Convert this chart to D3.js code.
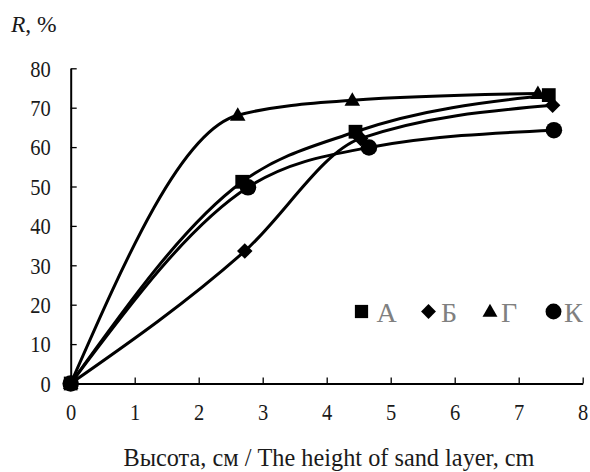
<!DOCTYPE html>
<html><head><meta charset="utf-8">
<script src="https://cdn.jsdelivr.net/npm/d3@7"></script>
<style>body{margin:0;background:#fff}svg{display:block}</style>
</head><body>
<svg id="c" width="590" height="472"></svg>
<script>
const seriesNames = ["А", "Б", "Г", "К"];
const seriesSymbols = ["square", "diamond", "triangle", "circle"];
const xA = [0, 2.68, 4.45, 7.47];
const yA = [0, 51.2, 63.9, 73.2];
const xB = [0, 2.72, 4.53, 7.53];
const yB = [0, 33.6, 62.2, 70.6];
const xG = [0, 2.61, 4.40, 7.30];
const yG = [0, 68.1, 71.9, 73.6];
const xK = [0, 2.77, 4.66, 7.55];
const yK = [0, 49.8, 59.9, 64.3];
const xTicks = [0,1,2,3,4,5,6,7,8];
const yTicks = [0,10,20,30,40,50,60,70,80];
const xTitle = "Высота, см / The height of sand layer, cm";

const FONT = '"Liberation Serif"';
const svg = d3.select("#c");
const x = d3.scaleLinear().domain([0,8]).range([70.7,582.7]);
const y = d3.scaleLinear().domain([0,80]).range([383.5,68.3]);
const txt = "#1a1a1a";

// axes
const xAxis = d3.axisBottom(x).tickValues(xTicks).tickSizeInner(-6).tickSizeOuter(0).tickFormat(d3.format("d"));
const gx = svg.append("g").attr("transform",`translate(0,${y(0)})`).call(xAxis);
gx.select(".domain").attr("stroke","#000").attr("stroke-width",2);
gx.selectAll(".tick line").attr("stroke","#000").attr("stroke-width",1.3);
gx.selectAll(".tick text").style("font-family",FONT).style("font-size","20.5px").attr("fill",txt)
  .attr("dy",null).attr("y",0).attr("transform","translate(0,36.5) scale(1,1.17)");

const yAxis = d3.axisLeft(y).tickValues(yTicks).tickSizeInner(-6).tickSizeOuter(0).tickFormat(d3.format("d"));
const gy = svg.append("g").attr("transform",`translate(${x(0)},0)`).call(yAxis);
gy.select(".domain").attr("stroke","#000").attr("stroke-width",2);
gy.selectAll(".tick line").attr("stroke","#000").attr("stroke-width",1.3);
gy.selectAll(".tick text").style("font-family",FONT).style("font-size","20.5px").attr("fill",txt)
  .attr("x",0).attr("dy",null).attr("transform","translate(-20,7.8) scale(1,1.17)");

// labels
const rl = svg.append("text").attr("x",11).attr("y",32).style("font-family",FONT).style("font-size","23.5px").attr("fill",txt);
rl.append("tspan").style("font-style","italic").text("R");
rl.append("tspan").text(", %");
svg.append("text").attr("x",329).attr("y",466).attr("text-anchor","middle").style("font-family",FONT).style("font-size","24.3px").attr("fill",txt).text(xTitle);

// series
const series = [
  {xs:xA, ys:yA}, {xs:xB, ys:yB}, {xs:xG, ys:yG}, {xs:xK, ys:yK}
];
const line = d3.line().x(d=>x(d[0])).y(d=>y(d[1])).curve(d3.curveMonotoneX);

function marker(g, type, cx, cy, scale){
  const s = scale||1;
  if(type==="square"){
    g.append("path").attr("d",d3.symbol(d3.symbolSquare, 190*s*s)()).attr("transform",`translate(${cx},${cy})`);
  } else if(type==="diamond"){
    g.append("path").attr("d",d3.symbol(d3.symbolSquare, 120*s*s)()).attr("transform",`translate(${cx},${cy}) rotate(45)`);
  } else if(type==="triangle"){
    g.append("path").attr("d",d3.symbol(d3.symbolTriangle, 105*s*s)()).attr("transform",`translate(${cx},${cy+1})`);
  } else {
    g.append("path").attr("d",d3.symbol(d3.symbolCircle, 215*s*s)()).attr("transform",`translate(${cx},${cy})`);
  }
}

series.forEach((s,i)=>{
  const pts = s.xs.map((v,j)=>[v, s.ys[j]]);
  svg.append("path").attr("d",line(pts)).attr("fill","none").attr("stroke","#000").attr("stroke-width",3);
  const g = svg.append("g").attr("fill","#000");
  pts.forEach(p=>marker(g, seriesSymbols[i], x(p[0]), y(p[1]), 1));
});

// legend
const legMX = [361.5, 428.5, 490, 553.5];
const legTX = [376.5, 441, 501, 564];
const lg = svg.append("g");
seriesNames.forEach((n,i)=>{
  const g = lg.append("g").attr("fill","#000");
  marker(g, seriesSymbols[i], legMX[i], 311.5, 0.96);
  lg.append("text").attr("x",legTX[i]).attr("y",322)
    .style("font-family",FONT).style("font-size","28px").attr("fill","#808080").text(n);
});
</script>
</body></html>
